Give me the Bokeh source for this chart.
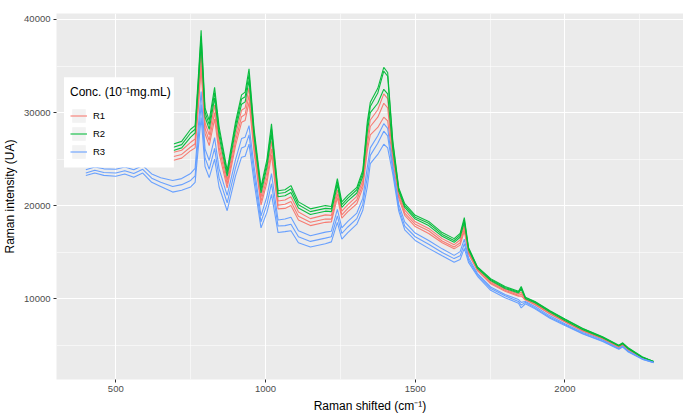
from bokeh.plotting import figure
from bokeh.models import Range1d, FixedTicker, Legend, LegendItem, BoxAnnotation
from bokeh.embed import file_html
from bokeh.resources import INLINE

# Raman shift (cm^-1)
wavenumber = [400, 430, 460, 500, 530, 560, 590, 620, 650, 690,
              720, 750, 765, 775, 785, 798, 812, 830, 845, 872,
              900, 920, 932, 945, 962, 985, 1005, 1020, 1042, 1065,
              1085, 1110, 1150, 1200, 1220, 1240, 1255, 1275, 1305, 1325,
              1340, 1350, 1375, 1395, 1408, 1425, 1445, 1465, 1500, 1545,
              1590, 1630, 1650, 1664, 1678, 1708, 1752, 1800, 1845, 1854,
              1868, 1900, 1950, 2000, 2060, 2126, 2180, 2193, 2210, 2258, 2296]

# R2 (green) spectra
r2_a = [27750, 28050, 27850, 27800, 28050, 27750, 28200, 27300, 26900, 26600,
        26900, 28200, 28600, 33500, 38850, 30500, 29150, 32700, 28500, 23800,
        29000, 31900, 32200, 34700, 28200, 22000, 25000, 28800, 21600, 21700,
        22150, 20400, 19650, 20000, 19900, 22900, 20400, 21100, 21950, 23800,
        29000, 31100, 32600, 34850, 34300, 27000, 21900, 20200, 18950, 18300,
        17100, 16450, 17000, 18700, 15500, 13400, 12150, 11300, 10800, 11300,
        10150, 9700, 8700, 7800, 6800, 5900, 5000, 5250, 4750, 3750, 3250]
r2_b = [27400, 27700, 27500, 27450, 27700, 27400, 27850, 26950, 26550, 26250,
        26550, 27800, 28200, 33000, 38200, 30050, 28700, 32150, 28050, 23500,
        28600, 31450, 31700, 34100, 27800, 21700, 24600, 28250, 21300, 21400,
        21800, 20100, 19350, 19700, 19650, 22550, 20100, 20800, 21700, 23500,
        28500, 30650, 32100, 34450, 33900, 26750, 21750, 20000, 18750, 18100,
        16900, 16250, 16800, 18450, 15400, 13350, 12050, 11200, 10700, 11150,
        10100, 9650, 8650, 7750, 6750, 5850, 4950, 5200, 4700, 3700, 3250]
r2_c = [27050, 27350, 27150, 27100, 27350, 27050, 27500, 26600, 26200, 25900,
        26200, 27350, 27800, 32400, 37450, 29550, 28200, 31550, 27500, 23150,
        28150, 30900, 31150, 33450, 27350, 21350, 24150, 27650, 20950, 21050,
        21400, 19750, 19050, 19400, 19350, 22200, 19800, 20500, 21350, 23150,
        27950, 30000, 31000, 32500, 32000, 26050, 21550, 19800, 18550, 17850,
        16700, 16050, 16600, 18200, 15250, 13250, 11950, 11100, 10600, 11000,
        10000, 9550, 8550, 7650, 6650, 5800, 4900, 5150, 4650, 3700, 3250]

# R1 (red) spectra
r1_a = [26850, 27150, 26950, 26900, 27150, 26850, 27300, 26400, 26000, 25700,
        25950, 26800, 27150, 31600, 36500, 28900, 27600, 30800, 26900, 22700,
        27550, 30250, 30500, 32650, 26800, 20900, 23600, 26900, 20500, 20600,
        20950, 19300, 18600, 19000, 18950, 21700, 19400, 20100, 21000, 22700,
        27250, 29200, 30300, 32000, 31500, 25700, 21300, 19500, 18250, 17550,
        16450, 15800, 16300, 17850, 15100, 13150, 11850, 11000, 10500, 10700,
        9950, 9500, 8500, 7600, 6600, 5750, 4850, 5100, 4600, 3650, 3200]
r1_b = [26400, 26700, 26500, 26450, 26700, 26400, 26850, 25950, 25550, 25250,
        25500, 26300, 26650, 30900, 35550, 28300, 27000, 30000, 26250, 22300,
        26950, 29550, 29800, 31850, 26200, 20450, 23000, 26100, 20050, 20150,
        20450, 18850, 18200, 18550, 18550, 21250, 19000, 19700, 20600, 22300,
        26550, 28500, 29500, 31000, 30500, 25300, 21050, 19200, 18000, 17300,
        16200, 15550, 16000, 17550, 14950, 13050, 11700, 10900, 10350, 10500,
        9900, 9400, 8400, 7550, 6550, 5700, 4800, 5050, 4550, 3650, 3200]
r1_c = [26000, 26300, 26100, 26050, 26300, 26000, 26450, 25550, 25150, 24850,
        25100, 25900, 26200, 30200, 34700, 27750, 26450, 29300, 25650, 21900,
        26450, 28950, 29150, 31100, 25700, 20050, 22500, 25450, 19650, 19700,
        20000, 18450, 17850, 18200, 18250, 20850, 18650, 19350, 20200, 21900,
        25900, 27600, 28400, 29500, 29100, 24850, 20800, 18950, 17750, 17000,
        16000, 15350, 15750, 17250, 14800, 13000, 11600, 10800, 10250, 10300,
        9850, 9350, 8350, 7500, 6500, 5650, 4750, 5000, 4500, 3600, 3200]

# R3 (blue) spectra
r3_a = [23850, 24150, 23950, 23900, 24150, 23850, 24300, 23400, 23000, 22700,
        22900, 23450, 24000, 28250, 32250, 26100, 24850, 27300, 23950, 21100,
        24950, 27200, 27350, 28600, 24200, 18900, 21000, 23450, 18450, 18550,
        18750, 17300, 16750, 17150, 17250, 19600, 17600, 18300, 19200, 20800,
        24100, 26200, 27500, 28800, 28300, 24300, 20150, 18250, 17050, 16250,
        15350, 14650, 15050, 16400, 14400, 12700, 11250, 10450, 9900, 9600,
        9700, 9150, 8150, 7300, 6350, 5550, 4650, 4900, 4400, 3550, 3150]
r3_b = [23500, 23800, 23550, 23500, 23750, 23450, 23900, 22950, 22500, 22050,
        22250, 22700, 23200, 27100, 30850, 25150, 23900, 26150, 22950, 20300,
        24050, 26200, 26350, 27600, 23350, 18250, 20150, 22350, 17800, 17850,
        18000, 16650, 16150, 16500, 16650, 18900, 17000, 17700, 18600, 20150,
        23050, 25400, 26700, 28000, 27500, 23850, 19750, 17800, 16650, 15850,
        14950, 14300, 14600, 15900, 14150, 12550, 11100, 10300, 9700, 9300,
        9600, 9000, 8000, 7200, 6250, 5450, 4600, 4850, 4350, 3500, 3150]
r3_c = [23230, 23500, 23250, 23150, 23400, 23050, 23500, 22500, 22050, 21450,
        21650, 22000, 22500, 26000, 29450, 24200, 23000, 25000, 22000, 19450,
        23200, 25200, 25300, 26600, 22500, 17600, 19300, 21200, 17100, 17200,
        17300, 16000, 15550, 15900, 16100, 18200, 16400, 17100, 18000, 19500,
        22000, 24500, 25500, 26600, 26200, 23400, 19400, 17400, 16250, 15400,
        14600, 13900, 14200, 15400, 13900, 12400, 10900, 10100, 9500, 9000,
        9450, 8900, 7900, 7100, 6200, 5400, 4550, 4800, 4300, 3500, 3100]

groups = ["R1", "R2", "R3"]
group_colors = ["#F8766D", "#00BA38", "#619CFF"]
group_series = [[r1_a, r1_b, r1_c], [r2_a, r2_b, r2_c], [r3_a, r3_b, r3_c]]

x_ticks = [500, 1000, 1500, 2000]
x_minor = [750, 1250, 1750, 2250]
y_ticks = [10000, 20000, 30000, 40000]
y_minor = [5000, 15000, 25000, 35000]

FONT = "Liberation Sans"

p = figure(width=683, height=418, output_backend="svg", toolbar_location=None,
           x_range=Range1d(302, 2396), y_range=Range1d(1309, 40644),
           min_border_left=49, min_border_right=0, min_border_top=13, min_border_bottom=39,
           background_fill_color="#EBEBEB", border_fill_color="white")
p.outline_line_color = None

xt = FixedTicker(ticks=x_ticks, minor_ticks=x_minor)
yt = FixedTicker(ticks=y_ticks, minor_ticks=y_minor)
p.xaxis.ticker = xt
p.yaxis.ticker = yt
p.xgrid.ticker = xt
p.ygrid.ticker = yt
for g in (p.xgrid, p.ygrid):
    g.grid_line_color = "white"
    g.grid_line_width = 1.1
    g.minor_grid_line_color = "white"
    g.minor_grid_line_width = 0.55

for ax in (p.xaxis, p.yaxis):
    ax.axis_line_color = None
    ax.major_tick_line_color = "#333333"
    ax.major_tick_in = 0
    ax.major_tick_out = 3
    ax.minor_tick_line_color = None
    ax.major_label_text_font = FONT
    ax.major_label_text_font_size = "9.5px"
    ax.major_label_text_color = "#4D4D4D"
    ax.major_label_standoff = 2
    ax.axis_label_text_font = FONT
    ax.axis_label_text_font_size = "12px"
    ax.axis_label_text_font_style = "normal"
    ax.axis_label_text_color = "black"
    ax.axis_label_standoff = 4

p.xaxis.axis_label = "Raman shifted (cm\u207b\u00b9)"
p.yaxis.axis_label = "Raman intensity (UA)"
p.yaxis.major_label_orientation = "horizontal"

items = []
for name, color, series in zip(groups, group_colors, group_series):
    key_bg = p.rect(x=[0], y=[0], width=1, height=1, fill_color="#F2F2F2", line_color=None)
    first = None
    for ys in series:
        r = p.line(wavenumber, ys, line_color=color, line_width=1.1, line_alpha=0.95)
        if first is None:
            first = r
    items.append(LegendItem(label=name, renderers=[key_bg, first]))

# white legend panel (ggplot legend background)
legend_box = BoxAnnotation(left=327, right=694, bottom=24100, top=33780,
                           fill_color="white", fill_alpha=1.0, line_color=None)
p.add_layout(legend_box)

legend = Legend(items=items, location=(14, 219), title="Conc. (10\u207b\u00b9mg.mL)",
                title_text_font=FONT, title_text_font_size="12px", title_text_color="black",
                title_text_font_style="normal", title_standoff=7,
                label_text_font=FONT, label_text_font_size="9.5px", label_text_color="black",
                glyph_width=17, glyph_height=17, label_height=17, spacing=1,
                label_standoff=6, padding=10, margin=0,
                border_line_color=None, background_fill_alpha=0.0)
p.add_layout(legend, "center")

open("out.html", "w").write(file_html(p, INLINE))
